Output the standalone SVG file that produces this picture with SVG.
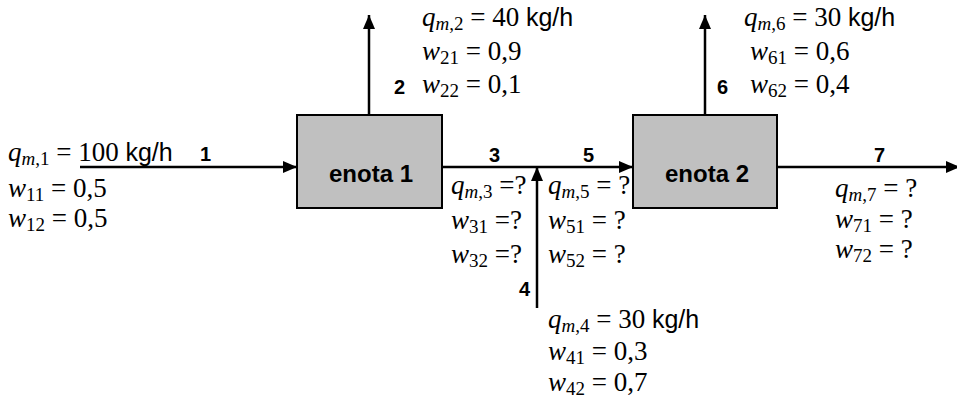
<svg xmlns="http://www.w3.org/2000/svg" width="957" height="405" viewBox="0 0 957 405">
<defs>
<marker id="ah" markerWidth="14" markerHeight="12" refX="14" refY="6" orient="auto" markerUnits="userSpaceOnUse">
<path d="M0,0 L14,6 L0,12 Z" fill="#000"/>
</marker>
</defs>
<style>
.t{font-family:"Liberation Serif","Times New Roman",serif;font-size:27px;fill:#000}
.i{font-style:italic}
.s{font-size:19px}
.a{font-family:"Liberation Sans",Arial,sans-serif;font-size:25px}
.b{font-family:"Liberation Sans",Arial,sans-serif;font-size:20px;font-weight:bold;fill:#000}
.box{fill:#c0c0c0;stroke:#000;stroke-width:2}
.n{font-family:"Liberation Sans",Arial,sans-serif;font-size:24px;font-weight:bold;fill:#000}
.c{stroke:#000;stroke-width:2.5;fill:none}
</style>
<g id="connectors">
<line class="c" x1="80" y1="167" x2="297" y2="167" marker-end="url(#ah)"/>
<line class="c" x1="369" y1="115" x2="369" y2="15" marker-end="url(#ah)"/>
<line class="c" x1="442" y1="167" x2="633" y2="167" marker-end="url(#ah)"/>
<line class="c" x1="537" y1="308" x2="537" y2="167" marker-end="url(#ah)"/>
<line class="c" x1="705" y1="115" x2="705" y2="15" marker-end="url(#ah)"/>
<line class="c" x1="777" y1="167" x2="960" y2="167" marker-end="url(#ah)"/>
</g>
<g id="enota1">
<rect class="box" x="297" y="115" width="145" height="93"/>
<text class="n" x="371" y="182" text-anchor="middle">enota 1</text>
</g>
<g id="enota2">
<rect class="box" x="633" y="115" width="144" height="93"/>
<text class="n" x="707" y="182" text-anchor="middle">enota 2</text>
</g>
<g id="labels">
<text class="b" x="200" y="161">1</text>
<text class="b" x="394" y="94">2</text>
<text class="b" x="489" y="162">3</text>
<text class="b" x="519" y="296">4</text>
<text class="b" x="583" y="162">5</text>
<text class="b" x="717" y="94">6</text>
<text class="b" x="874" y="162">7</text>
</g>
<g id="stream1">
<text class="t" x="8" y="161"><tspan class="i">q</tspan><tspan class="s" dy="4"><tspan class="i">m</tspan>,1</tspan><tspan dy="-4"> = 100 </tspan><tspan class="a">kg/h</tspan></text>
<text class="t" x="8" y="197"><tspan class="i">w</tspan><tspan class="s" dy="4">11</tspan><tspan dy="-4"> = 0,5</tspan></text>
<text class="t" x="8" y="227"><tspan class="i">w</tspan><tspan class="s" dy="4">12</tspan><tspan dy="-4"> = 0,5</tspan></text>
</g>
<g id="stream2">
<text class="t" x="422" y="26"><tspan class="i">q</tspan><tspan class="s" dy="4"><tspan class="i">m</tspan>,2</tspan><tspan dy="-4"> = 40 </tspan><tspan class="a">kg/h</tspan></text>
<text class="t" x="422" y="60"><tspan class="i">w</tspan><tspan class="s" dy="4">21</tspan><tspan dy="-4"> = 0,9</tspan></text>
<text class="t" x="422" y="93"><tspan class="i">w</tspan><tspan class="s" dy="4">22</tspan><tspan dy="-4"> = 0,1</tspan></text>
</g>
<g id="stream3">
<text class="t" x="451" y="194"><tspan class="i">q</tspan><tspan class="s" dy="4"><tspan class="i">m</tspan>,3</tspan><tspan dy="-4"> =?</tspan></text>
<text class="t" x="451" y="229"><tspan class="i">w</tspan><tspan class="s" dy="4">31</tspan><tspan dy="-4"> =?</tspan></text>
<text class="t" x="451" y="263"><tspan class="i">w</tspan><tspan class="s" dy="4">32</tspan><tspan dy="-4"> =?</tspan></text>
</g>
<g id="stream5">
<text class="t" x="548" y="194"><tspan class="i">q</tspan><tspan class="s" dy="4"><tspan class="i">m</tspan>,5</tspan><tspan dy="-4"> = ?</tspan></text>
<text class="t" x="548" y="229"><tspan class="i">w</tspan><tspan class="s" dy="4">51</tspan><tspan dy="-4"> = ?</tspan></text>
<text class="t" x="548" y="263"><tspan class="i">w</tspan><tspan class="s" dy="4">52</tspan><tspan dy="-4"> = ?</tspan></text>
</g>
<g id="stream4">
<text class="t" x="548" y="328"><tspan class="i">q</tspan><tspan class="s" dy="4"><tspan class="i">m</tspan>,4</tspan><tspan dy="-4"> = 30 </tspan><tspan class="a">kg/h</tspan></text>
<text class="t" x="548" y="360"><tspan class="i">w</tspan><tspan class="s" dy="4">41</tspan><tspan dy="-4"> = 0,3</tspan></text>
<text class="t" x="548" y="391"><tspan class="i">w</tspan><tspan class="s" dy="4">42</tspan><tspan dy="-4"> = 0,7</tspan></text>
</g>
<g id="stream6">
<text class="t" x="744" y="26"><tspan class="i">q</tspan><tspan class="s" dy="4"><tspan class="i">m</tspan>,6</tspan><tspan dy="-4"> = 30 </tspan><tspan class="a">kg/h</tspan></text>
<text class="t" x="750" y="60"><tspan class="i">w</tspan><tspan class="s" dy="4">61</tspan><tspan dy="-4"> = 0,6</tspan></text>
<text class="t" x="750" y="93"><tspan class="i">w</tspan><tspan class="s" dy="4">62</tspan><tspan dy="-4"> = 0,4</tspan></text>
</g>
<g id="stream7">
<text class="t" x="835" y="197"><tspan class="i">q</tspan><tspan class="s" dy="4"><tspan class="i">m</tspan>,7</tspan><tspan dy="-4"> = ?</tspan></text>
<text class="t" x="835" y="228"><tspan class="i">w</tspan><tspan class="s" dy="4">71</tspan><tspan dy="-4"> = ?</tspan></text>
<text class="t" x="835" y="258"><tspan class="i">w</tspan><tspan class="s" dy="4">72</tspan><tspan dy="-4"> = ?</tspan></text>
</g>
</svg>
